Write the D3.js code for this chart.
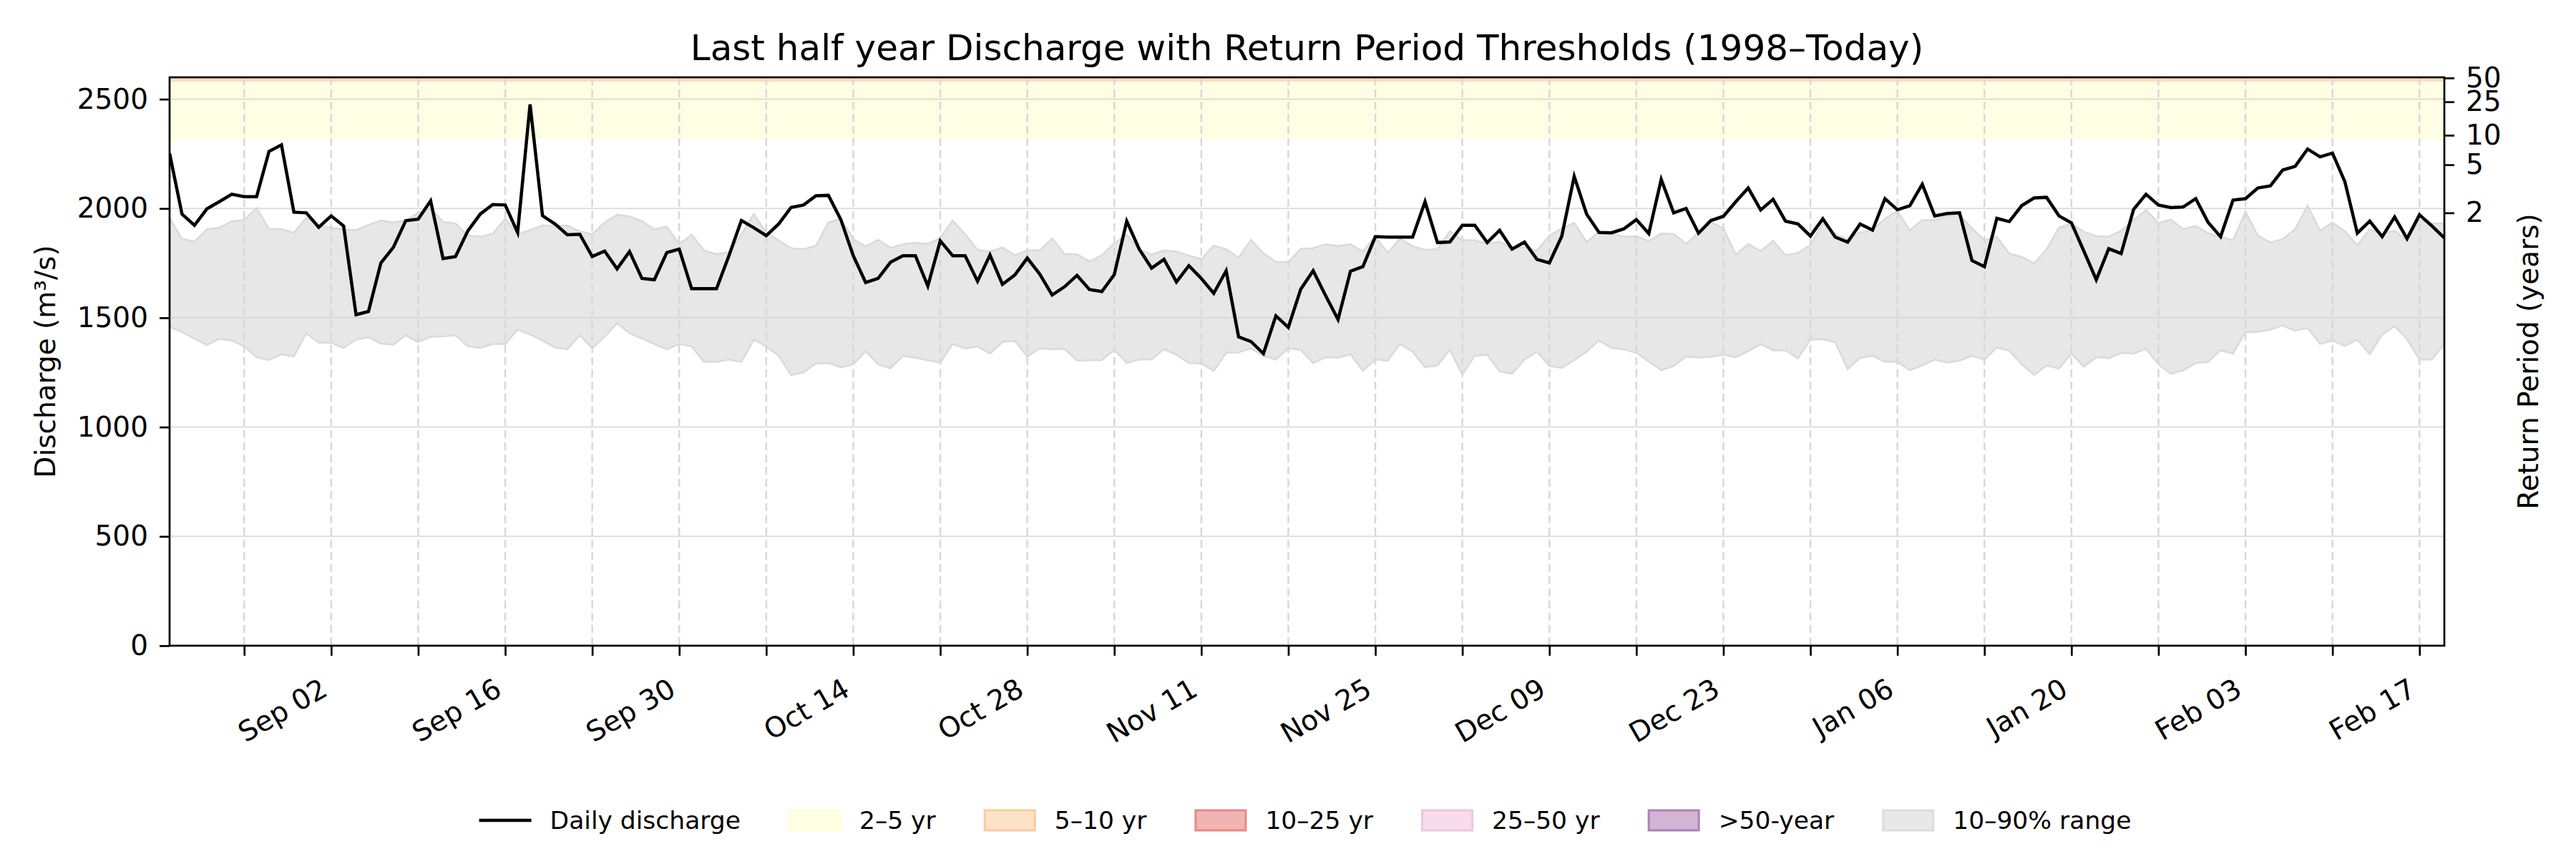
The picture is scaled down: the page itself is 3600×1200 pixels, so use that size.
<!DOCTYPE html>
<html>
<head>
<meta charset="utf-8">
<script src="https://cdn.jsdelivr.net/npm/d3@7"></script>
<style>
  body { margin: 0; background: #fff; }
  text { font-family: "DejaVu Sans", sans-serif; }
</style>
</head>
<body>
<div id="chart-area"></div>
<script>
// daily discharge (m3/s), starting 2024-08-20
var startDay = "2024-08-20";
var discharge = [
  2252, 1974, 1923, 1998, 2031, 2065, 2054, 2054, 2261, 2291, 1983, 1980, 1914, 1966, 1920, 1514, 1529, 1751, 1822, 1944,
  1951, 2035, 1771, 1780, 1898, 1975, 2018, 2016, 1890, 2476, 1967, 1929, 1880, 1882, 1780, 1805, 1724, 1803, 1680, 1674,
  1798, 1814, 1633, 1633, 1633, 1784, 1945, 1912, 1876, 1929, 2005, 2016, 2058, 2060, 1949, 1784, 1661, 1680, 1754, 1784,
  1784, 1645, 1852, 1784, 1784, 1667, 1787, 1653, 1696, 1773, 1700, 1604, 1642, 1694, 1629, 1620, 1698, 1942, 1814, 1727,
  1767, 1664, 1738, 1680, 1612, 1715, 1413, 1391, 1336, 1509, 1456, 1631, 1715, 1601, 1492, 1713, 1734, 1871, 1869, 1869,
  1869, 2031, 1844, 1847, 1923, 1923, 1844, 1900, 1814, 1846, 1767, 1751, 1873, 2147, 1974, 1890, 1889, 1907, 1949, 1885,
  2133, 1980, 2000, 1887, 1945, 1964, 2031, 2094, 1993, 2042, 1942, 1929, 1874, 1953, 1869, 1846, 1929, 1901, 2045, 1994,
  2013, 2111, 1966, 1977, 1980, 1762, 1734, 1955, 1940, 2013, 2048, 2051, 1966, 1934, 1805, 1674, 1816, 1794, 1996, 2065,
  2016, 2004, 2007, 2045, 1936, 1871, 2038, 2045, 2094, 2103, 2176, 2193, 2272, 2236, 2253, 2122, 1887, 1942, 1871, 1961,
  1862, 1971, 1920, 1865
];

// climatological 90th percentile for each day
var q90 = [
  1958, 1860, 1849, 1904, 1912, 1942, 1947, 2002, 1907, 1906, 1889, 1958, 1920, 1912, 1904, 1901, 1925, 1945, 1936, 1945,
  1980, 2002, 1938, 1931, 1876, 1871, 1884, 1953, 1882, 1901, 1923, 1920, 1922, 1895, 1882, 1936, 1971, 1964, 1942, 1904,
  1917, 1838, 1880, 1808, 1791, 1800, 1882, 1974, 1890, 1854, 1818, 1814, 1829, 1936, 1953, 1860, 1827, 1857, 1820, 1836,
  1843, 1838, 1865, 1945, 1882, 1811, 1803, 1822, 1786, 1808, 1808, 1863, 1792, 1790, 1758, 1786, 1840, 1880, 1811, 1789,
  1808, 1803, 1784, 1769, 1830, 1814, 1775, 1857, 1795, 1756, 1754, 1816, 1818, 1836, 1829, 1836, 1803, 1871, 1798, 1862,
  1827, 1811, 1814, 1896, 1855, 1855, 1838, 1849, 1816, 1822, 1808, 1876, 1909, 1934, 1846, 1895, 1885, 1871, 1873, 1851,
  1885, 1884, 1838, 1890, 1938, 1909, 1789, 1838, 1805, 1852, 1786, 1797, 1833, 1931, 1880, 1860, 1890, 1901, 1953, 1988,
  1900, 1947, 1947, 1966, 1971, 1909, 1855, 1869, 1794, 1778, 1748, 1813, 1912, 1931, 1893, 1873, 1871, 1898, 1947, 1993,
  1934, 1949, 1906, 1920, 1887, 1871, 1854, 1985, 1876, 1844, 1860, 1906, 2013, 1898, 1936, 1895, 1833, 1904, 1884, 1898,
  1854, 1947, 1931, 1931
];

// climatological 10th percentile for each day
var q10 = [
  1459, 1435, 1404, 1375, 1404, 1396, 1369, 1320, 1307, 1333, 1323, 1429, 1386, 1386, 1362, 1400, 1411, 1382, 1377, 1420,
  1389, 1413, 1415, 1420, 1369, 1362, 1380, 1380, 1446, 1424, 1396, 1364, 1356, 1420, 1360, 1413, 1475, 1429, 1405, 1380,
  1356, 1380, 1369, 1298, 1298, 1309, 1298, 1400, 1369, 1326, 1238, 1251, 1291, 1293, 1273, 1287, 1347, 1287, 1269, 1326,
  1317, 1306, 1295, 1380, 1360, 1369, 1336, 1389, 1394, 1323, 1360, 1356, 1358, 1304, 1306, 1306, 1353, 1293, 1309, 1309,
  1356, 1331, 1293, 1291, 1257, 1339, 1342, 1360, 1326, 1309, 1360, 1353, 1293, 1320, 1317, 1333, 1258, 1309, 1304, 1380,
  1345, 1273, 1282, 1353, 1240, 1326, 1331, 1255, 1244, 1309, 1345, 1280, 1271, 1306, 1345, 1396, 1362, 1356, 1339, 1300,
  1260, 1279, 1323, 1318, 1322, 1331, 1320, 1347, 1380, 1351, 1351, 1315, 1400, 1402, 1388, 1265, 1317, 1326, 1298, 1298,
  1260, 1282, 1309, 1295, 1304, 1326, 1309, 1364, 1349, 1287, 1238, 1282, 1268, 1336, 1276, 1320, 1315, 1339, 1336, 1358,
  1287, 1244, 1260, 1293, 1298, 1351, 1336, 1435, 1435, 1446, 1465, 1440, 1454, 1380, 1396, 1371, 1400, 1333, 1424, 1462,
  1402, 1309, 1309, 1380
];

// return period bands shown in the plot (m3/s)
var bandNames = ["2–5 yr", "5–10 yr"];
var bandLow = [2315, 2580];
var bandHigh = [2580, 2600];

// right axis: return periods and matching discharge
var rpLabels = ["2", "5", "10", "25", "50"];
var rpValues = [1980, 2200, 2335, 2488, 2597];

var yTicks = [0, 500, 1000, 1500, 2000, 2500];
var legendNames = ["Daily discharge", "2–5 yr", "5–10 yr", "10–25 yr", "25–50 yr", ">50-year", "10–90% range"];

// styles
var legendFill = [null, "#ffffe3", "#fde3c8", "#f0b5b3", "#f6dde9", "#d2b5d5", "#e8e8e8"];
var legendStroke = [null, "#fefed2", "#fbcb9e", "#e48a86", "#efc6dc", "#ad82b4", "#dddddd"];
var bandColors = ["#fefee4", "#fde0bd"];

var margin = { left: 237, right: 184, top: 108, bottom: 298 };
var W = 3600, H = 1200;
var width = W - margin.left - margin.right;
var height = H - margin.top - margin.bottom;

var svg = d3.select("#chart-area")
    .append("svg")
    .attr("width", W)
    .attr("height", H);

var g = svg.append("g")
    .attr("transform", "translate(" + margin.left + ", " + margin.top + ")");

svg.append("defs").append("clipPath")
    .attr("id", "plot-clip")
    .append("rect")
    .attr("width", width)
    .attr("height", height);

var t0 = new Date(startDay + "T00:00:00Z");
var dates = discharge.map(function (d, i) { return d3.utcDay.offset(t0, i); });

// scales
var x = d3.scaleUtc()
    .domain([dates[0], dates[dates.length - 1]])
    .range([0, width]);

var y = d3.scaleLinear()
    .domain([0, 2600])
    .range([height, 0]);

var plot = g.append("g").attr("clip-path", "url(#plot-clip)");

// return period bands
plot.selectAll(".rp-band")
    .data(bandNames)
    .enter()
    .append("rect")
    .attr("class", "rp-band")
    .attr("x", 0)
    .attr("width", width)
    .attr("y", function (d, i) { return y(bandHigh[i]); })
    .attr("height", function (d, i) { return y(bandLow[i]) - y(bandHigh[i]); })
    .attr("fill", function (d, i) { return bandColors[i]; });

// 10-90% range
var area = d3.area()
    .x(function (d, i) { return x(dates[i]); })
    .y0(function (d, i) { return y(q10[i]); })
    .y1(function (d, i) { return y(q90[i]); });

plot.append("path")
    .datum(discharge)
    .attr("d", area)
    .attr("fill", "#e7e7e7")
    .attr("stroke", "#dadada")
    .attr("stroke-width", 2.5);

// grid
var mondays = d3.utcMonday.range(dates[0], d3.utcDay.offset(dates[dates.length - 1], 1));

plot.selectAll(".hgrid")
    .data(yTicks)
    .enter()
    .append("line")
    .attr("x1", 0)
    .attr("x2", width)
    .attr("y1", function (d) { return y(d); })
    .attr("y2", function (d) { return y(d); })
    .attr("stroke", "#d4d4d4")
    .attr("stroke-opacity", 0.8)
    .attr("stroke-width", 2);

plot.selectAll(".vgrid")
    .data(mondays)
    .enter()
    .append("line")
    .attr("x1", function (d) { return x(d); })
    .attr("x2", function (d) { return x(d); })
    .attr("y1", 0)
    .attr("y2", height)
    .attr("stroke", "#d8d8d8")
    .attr("stroke-width", 2.5)
    .attr("stroke-dasharray", "11,6");

// discharge line
var line = d3.line()
    .x(function (d, i) { return x(dates[i]); })
    .y(function (d) { return y(d); });

plot.append("path")
    .datum(discharge)
    .attr("d", line)
    .attr("fill", "none")
    .attr("stroke", "#000")
    .attr("stroke-width", 4.5)
    .attr("stroke-linejoin", "miter");

// axes
var yAxisCall = d3.axisLeft(y)
    .tickValues(yTicks)
    .tickFormat(d3.format("d"))
    .tickSize(14)
    .tickSizeOuter(0)
    .tickPadding(16);

var yAxisGroup = g.append("g").attr("class", "y-axis").call(yAxisCall);

var rpAxisCall = d3.axisRight(y)
    .tickValues(rpValues)
    .tickFormat(function (d, i) { return rpLabels[i]; })
    .tickSize(14)
    .tickSizeOuter(0)
    .tickPadding(16);

var rpAxisGroup = g.append("g")
    .attr("class", "rp-axis")
    .attr("transform", "translate(" + width + ",0)")
    .call(rpAxisCall);

var fmt = d3.utcFormat("%b %d");
var xAxisCall = d3.axisBottom(x)
    .tickValues(mondays)
    .tickFormat(function (d, i) { return i % 2 === 1 ? fmt(d) : ""; })
    .tickSize(14)
    .tickSizeOuter(0);

var xAxisGroup = g.append("g")
    .attr("class", "x-axis")
    .attr("transform", "translate(0," + height + ")")
    .call(xAxisCall);

xAxisGroup.selectAll("text")
    .attr("x", 0)
    .attr("y", 0)
    .attr("dy", 0)
    .attr("text-anchor", "end")
    .attr("transform", "translate(-3,68) rotate(-30)");

[yAxisGroup, rpAxisGroup, xAxisGroup].forEach(function (ax) {
    ax.select(".domain").remove();
    ax.selectAll(".tick line").attr("stroke", "#000").attr("stroke-width", 2.7);
    ax.selectAll("text").attr("font-size", "39px").attr("fill", "#000")
        .style("font-family", "'DejaVu Sans', sans-serif");
});

// frame
g.append("rect")
    .attr("width", width)
    .attr("height", height)
    .attr("fill", "none")
    .attr("stroke", "#000")
    .attr("stroke-width", 2.7);

// title
g.append("text")
    .attr("x", width / 2)
    .attr("y", -24)
    .attr("font-size", "50px")
    .attr("text-anchor", "middle")
    .text("Last half year Discharge with Return Period Thresholds (1998–Today)");

// y labels
g.append("text")
    .attr("transform", "translate(" + (63 - margin.left) + "," + (height / 2) + ") rotate(-90)")
    .attr("dy", "0.35em")
    .attr("font-size", "39px")
    .attr("text-anchor", "middle")
    .text("Discharge (m³/s)");

g.append("text")
    .attr("transform", "translate(" + (3533 - margin.left) + "," + (height / 2) + ") rotate(-90)")
    .attr("dy", "0.35em")
    .attr("font-size", "39px")
    .attr("text-anchor", "middle")
    .text("Return Period (years)");

// legend
var legend = svg.append("g").attr("class", "legend");
var legendY = 1146;
var handleW = 73, textPad = 26, colGap = 67;

var items = legend.selectAll(".item")
    .data(legendNames)
    .enter()
    .append("g")
    .attr("class", "item");

items.append("text")
    .attr("x", handleW + textPad)
    .attr("y", legendY)
    .attr("dy", "0.35em")
    .attr("font-size", "34.5px")
    .text(function (d) { return d; });

items.each(function (d, i) {
    var it = d3.select(this);
    if (i === 0) {
        it.append("line")
            .attr("x1", 0).attr("x2", handleW)
            .attr("y1", legendY).attr("y2", legendY)
            .attr("stroke", "#000").attr("stroke-width", 4.5);
    } else {
        it.append("rect")
            .attr("x", 1.5).attr("y", legendY - 14)
            .attr("width", handleW - 3).attr("height", 28)
            .attr("fill", legendFill[i])
            .attr("stroke", legendStroke[i])
            .attr("stroke-width", 3);
    }
});

var widths = [];
items.select("text").each(function () { widths.push(this.getComputedTextLength()); });
var total = d3.sum(widths, function (w) { return handleW + textPad + w; }) + colGap * (widths.length - 1);
var cx = 1824 - total / 2;
items.attr("transform", function (d, i) {
    var pos = cx;
    cx += handleW + textPad + widths[i] + colGap;
    return "translate(" + pos + ",0)";
});
</script>
</body>
</html>
